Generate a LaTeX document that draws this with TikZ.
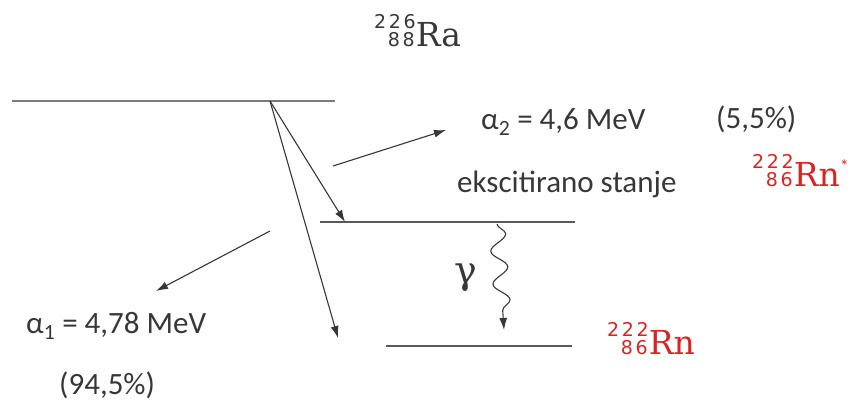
\documentclass[tikz,border=0pt]{standalone}
\usepackage{fontspec}
\setmainfont{Carlito}
\newfontfamily\nucfont{DejaVu Serif}
\newfontfamily\digitfont[LetterSpace=14]{DejaVu Sans}
\newfontfamily\greekfont{DejaVu Serif}
\usetikzlibrary{arrows.meta,decorations.pathmorphing}
\definecolor{textgray}{RGB}{55,55,55}
\definecolor{linegray}{RGB}{90,90,90}
\definecolor{nucred}{RGB}{220,35,35}
% mass number over charge number, right aligned, before the symbol
\newcommand{\nuclide}[3]{%
 {\fontsize{19}{19}\selectfont\digitfont
 \setbox0=\hbox{#1}\setbox2=\hbox{#2}%
 \ifdim\wd0>\wd2 \dimen0=\wd0 \else \dimen0=\wd2 \fi
 \makebox[\dimen0][r]{\raisebox{18.5pt}{#1}}\llap{#2\kern1pt}}%
 {\nucfont #3}}
\tikzset{
 level/.style={draw=linegray, line width=1.8pt},
 decay/.style={-{Latex[length=12pt,width=8pt]}, draw=textgray, line width=1.1pt},
 label/.style={text=textgray, font=\fontsize{31}{33}\selectfont, inner sep=0pt, anchor=base west},
 nuc/.style={font=\fontsize{33}{35}\selectfont, inner sep=0pt, anchor=base west},
 photon/.style={-{Latex[length=12pt,width=8pt]}, draw=textgray, line width=1.1pt,
 decorate, decoration={snake, amplitude=8pt, segment length=33pt, post length=11pt}}
}
\begin{document}
\begin{tikzpicture}[x=1pt, y=-1pt]
 \useasboundingbox (0,0) rectangle (857,403);

 % energy levels
 \coordinate (ra-left) at (12,101);
 \coordinate (ra-right) at (335,101);
 \coordinate (exc-left) at (320,222);
 \coordinate (exc-right) at (575,222);
 \coordinate (gnd-left) at (386,346);
 \coordinate (gnd-right) at (572,346);
 \draw[level, line width=2.4pt, draw=linegray!80] (ra-left) -- (ra-right);
 \draw[level] (exc-left) -- (exc-right);
 \draw[level] (gnd-left) -- (gnd-right);

 % decays
 \coordinate (src) at (270,101);
 \coordinate (exc-hit) at (345,222);
 \coordinate (gnd-hit) at (338,338);
 \draw[decay] (src) -- (exc-hit);
 \draw[decay] (src) -- (gnd-hit);

 % alpha particles
 \coordinate (a2-from) at (333,166);
 \coordinate (a2-to) at (446,130);
 \coordinate (a1-from) at (270,231);
 \coordinate (a1-to) at (156,291);
 \draw[decay] (a2-from) -- (a2-to);
 \draw[decay] (a1-from) -- (a1-to);

 % gamma
 \coordinate (g-from) at (497,224);
 \coordinate (g-to) at (504,330);
 \draw[photon] (g-from) -- (g-to);
 \node[text=textgray, font=\fontsize{38}{40}\selectfont\greekfont, inner sep=0pt] (gamma) at (466,278) {γ};

 % labels
 \node[nuc, text=textgray] (ra) at (374,47) {\nuclide{226}{88}{Ra}};
 \node[nuc, text=nucred] (rnx) at (752,187) {\nuclide{222}{86}{Rn}\raisebox{14pt}{\fontsize{18}{18}\selectfont *}};
 \node[nuc, text=nucred] (rn) at (607,355) {\nuclide{222}{86}{Rn}};
 \node[label] (a2) at (481,130) {α\textsubscript{2} = 4,6 MeV};
 \node[label] (p2) at (716,129) {(5,5\%)};
 \node[label] (exc) at (457,193) {ekscitirano stanje};
 \node[label] (a1) at (26,334) {α\textsubscript{1} = 4,78 MeV};
 \node[label] (p1) at (59,395) {(94,5\%)};
\end{tikzpicture}
\end{document}
